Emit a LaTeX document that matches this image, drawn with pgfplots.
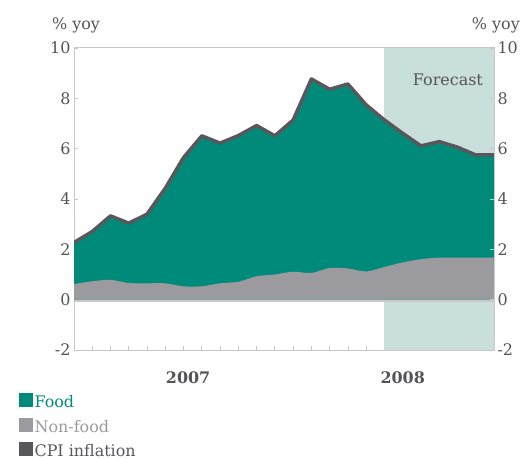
\documentclass[border=0pt]{standalone}
\usepackage{pgfplots}
\pgfplotsset{compat=1.18}
\usepackage{pgfplotstable}
\usepackage{fontspec}
\setmainfont{DejaVu Serif}
\definecolor{food}{RGB}{0,138,122}
\definecolor{nonfood}{RGB}{155,155,159}
\definecolor{cpi}{RGB}{88,88,92}
\definecolor{fcst}{RGB}{200,223,219}
\definecolor{txt}{RGB}{84,84,88}
\definecolor{axl}{RGB}{200,200,200}
\newcommand{\fs}{\fontsize{16}{19}\selectfont}

\pgfplotstableread{
x cpi nf
0 2.27 0.62
1 2.71 0.73
2 3.33 0.79
3 3.04 0.66
4 3.40 0.65
5 4.43 0.65
6 5.65 0.53
7 6.51 0.53
8 6.22 0.65
9 6.52 0.71
10 6.92 0.93
11 6.51 1.00
12 7.14 1.11
13 8.77 1.06
14 8.36 1.26
15 8.57 1.24
16 7.74 1.12
17 7.14 1.30
18 6.61 1.48
19 6.11 1.61
20 6.28 1.67
21 6.06 1.67
22 5.75 1.67
23 5.75 1.67
}\data

\begin{document}
\begin{tikzpicture}
\path[use as bounding box] (0,0) rectangle (528bp,459bp);
\begin{axis}[
  at={(74bp,109bp)}, anchor=south west,
  scale only axis, width=420bp, height=302bp,
  xmin=0, xmax=23, ymin=-2, ymax=10,
  clip mode=individual,
  ytick={-2,0,...,10},
  xtick={0,...,23}, xticklabels={},
  tick align=inside, major tick length=4bp,
  xtick pos=bottom, ytick pos=left,
  axis line style={axl, line width=1bp},
  tick style={axl, line width=0.8bp},
  ticklabel style={font=\fs, text=txt},
  /pgf/number format/assume math mode=true,
  legend style={at={(axis description cs:-0.131,-0.142)}, anchor=north west,
    draw=none, fill=none, inner sep=0pt, font=\fs, row sep=6.5bp,
    cells={anchor=west}, /tikz/every even column/.append style={column sep=3bp}},
  legend image code/.code={\fill[#1] (0bp,-4bp) rectangle (13bp,9bp);},
]
\addplot[fill=fcst, draw=none, forget plot]
  coordinates {(17,-2) (23,-2) (23,10) (17,10)} -- cycle;
\addplot[fill=food, draw=none, forget plot] table[x=x, y=cpi]{\data} \closedcycle;
\addplot[fill=nonfood, draw=none, smooth, tension=0.4, forget plot] table[x=x, y=nf]{\data} \closedcycle;
\addplot[axl, line width=2bp, forget plot] coordinates {(0,-0.05) (23,-0.05)};
\addplot[cpi, line width=3.5bp, line join=round, forget plot] table[x=x, y=cpi]{\data};
\addlegendimage{food}
\addlegendentry{\textcolor{food}{Food}}
\addlegendimage{nonfood}
\addlegendentry{\textcolor{nonfood}{Non-food}}
\addlegendimage{cpi}
\addlegendentry{\textcolor{cpi}{CPI inflation}}
\node[anchor=base, font=\fs\bfseries, text=txt, yshift=-33.5bp] at (axis cs:6.25,-2) {2007};
\node[anchor=base, font=\fs\bfseries, text=txt, yshift=-33.5bp] at (axis cs:18,-2) {2008};
\node[anchor=base east, font=\fs, text=txt, inner sep=0pt] at (axis cs:22.4,8.5) {Forecast};
\end{axis}
\begin{axis}[
  at={(74bp,109bp)}, anchor=south west,
  scale only axis, width=420bp, height=302bp,
  xmin=0, xmax=23, ymin=-2, ymax=10,
  ytick={-2,0,...,10}, xtick=\empty,
  axis x line=none, axis y line*=right,
  tick align=inside, major tick length=4bp,
  axis line style={axl, line width=1bp},
  tick style={axl, line width=0.8bp},
  ticklabel style={font=\fs, text=txt},
  /pgf/number format/assume math mode=true,
]
\addplot[draw=none] coordinates {(0,0) (23,0)};
\end{axis}
\node[anchor=base west, font=\fs, text=txt, inner sep=0pt] at (52bp,429bp) {\% yoy};
\node[anchor=base east, font=\fs, text=txt, inner sep=0pt] at (520bp,429bp) {\% yoy};
\end{tikzpicture}
\end{document}
